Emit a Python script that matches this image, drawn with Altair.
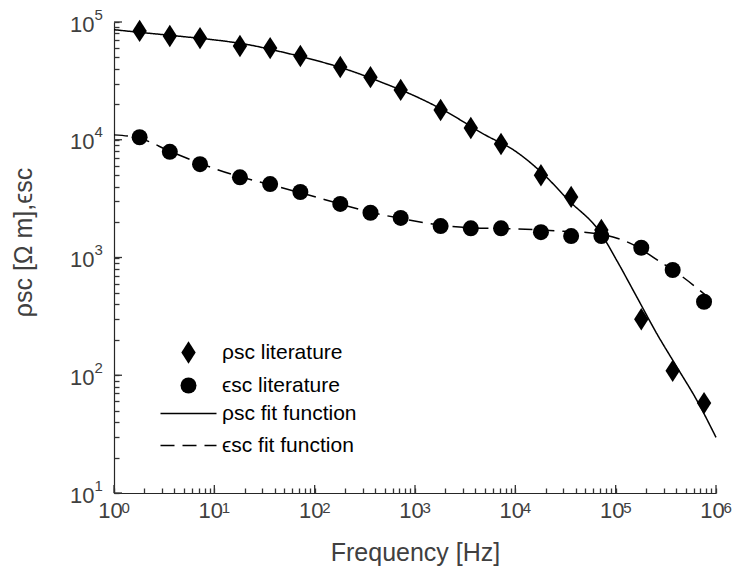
import altair as alt
import pandas as pd

# ---- data ----
freq_lit = [1.8, 3.6, 7.2, 18, 36, 72, 180, 360, 720, 1800, 3600, 7200,
            18000, 36000, 72000, 180000, 370000, 760000]
rho_lit = [84000, 76000, 73000, 62500, 60000, 51500, 41500, 34000, 26500,
           17900, 12600, 9200, 5000, 3270, 1710, 299, 109, 58]
eps_lit = [10500, 7900, 6200, 4800, 4200, 3600, 2850, 2400, 2170,
           1850, 1770, 1770, 1640, 1520, 1520, 1210, 783, 421]

freq_rho_fit = [1, 2, 5, 10, 20, 50, 100, 200, 500, 1000, 2000, 5000, 10000,
                20000, 33700, 71000, 102000, 162000, 256000, 406000, 642000, 1000000]
rho_fit = [86000, 81000, 75000, 70500, 65000, 55000, 47500, 40000, 30000, 23500,
           17500, 11000, 8000, 4900, 3080, 1610, 952, 464, 227, 118, 61.6, 29.7]

freq_eps_fit = [1, 1.8, 3.6, 7.2, 18, 36, 72, 180, 360, 720, 1800, 3600, 10300,
                30000, 60000, 162000, 250000, 438000, 1000000]
eps_fit = [11000, 10300, 8000, 6300, 4850, 4150, 3550, 2850, 2420, 2150, 1880,
           1790, 1750, 1670, 1610, 1240, 975, 710, 403]

RHO_LIT = "ρsc literature"
EPS_LIT = "ϵsc literature"
RHO_FIT = "ρsc fit function"
EPS_FIT = "ϵsc fit function"

x_major = [1, 10, 100, 1000, 10000, 100000, 1000000]
y_major = [10, 100, 1000, 10000, 100000]
x_all = [m * k for k in x_major[:-1] for m in range(1, 10)] + [x_major[-1]]
y_all = [m * k for k in y_major[:-1] for m in range(1, 10)] + [y_major[-1]]

# ---- tables ----
pts = pd.DataFrame({
    "f": freq_lit + freq_lit,
    "v": rho_lit + eps_lit,
    "series": [RHO_LIT] * len(freq_lit) + [EPS_LIT] * len(freq_lit),
})
lines = pd.DataFrame({
    "f": freq_rho_fit + freq_eps_fit,
    "v": rho_fit + eps_fit,
    "series": [RHO_FIT] * len(freq_rho_fit) + [EPS_FIT] * len(freq_eps_fit),
})
xmaj_df = pd.DataFrame({"t": x_major})
ymaj_df = pd.DataFrame({"t": y_major})

W, H = 602, 471
FONT = "Liberation Sans"
AX = "#262626"
TXT = "#404040"
LOG = "log(datum.value)/LN10"
EXPO = f"abs({LOG} - round({LOG})) < 0.000001 ? '' + round({LOG}) : ''"
DIAMOND = "M0,-1.4L0.9,0L0,1.4L-0.9,0Z"

xscale = alt.Scale(type="log", domain=[1, 1000000], nice=False)
yscale = alt.Scale(type="log", domain=[10, 100000], nice=False)

points = alt.Chart(pts).mark_point(filled=True, opacity=1, color="black", size=256).encode(
    x=alt.X("f:Q", scale=xscale, axis=alt.Axis(
        orient="bottom", title="Frequency [Hz]", values=x_major, labelExpr="'10'",
        ticks=False, grid=False, domainColor=AX, domainWidth=1.2,
        labelFont=FONT, labelFontSize=22, labelColor=TXT, labelPadding=7, labelOffset=-4,
        labelFlush=False, labelOverlap=False,
        titleFont=FONT, titleFontSize=25, titleFontWeight="normal", titleColor=TXT,
        titlePadding=19)),
    y=alt.Y("v:Q", scale=yscale, axis=alt.Axis(
        orient="left", title="ρsc [Ω m],ϵsc", values=y_major, labelExpr="'10'",
        ticks=False, grid=False, domainColor=AX, domainWidth=1.2,
        labelFont=FONT, labelFontSize=22, labelColor=TXT, labelPadding=20, labelOffset=2,
        labelFlush=False, labelOverlap=False,
        titleFont=FONT, titleFontSize=25, titleFontWeight="normal", titleColor=TXT,
        titlePadding=33, titleY=220)),
    shape=alt.Shape("series:N",
                    scale=alt.Scale(domain=[RHO_LIT, EPS_LIT], range=[DIAMOND, "circle"]),
                    legend=alt.Legend(title=None, orient="none", legendX=64, legendY=320,
                                      labelFont=FONT, labelFontSize=21, labelColor="#000",
                                      labelOffset=23, rowPadding=10, padding=0,
                                      symbolSize=256, symbolFillColor="black",
                                      symbolStrokeWidth=0)),
)

fits = alt.Chart(lines).mark_line(color="black", strokeWidth=1.5, interpolate="monotone").encode(
    x=alt.X("f:Q", scale=xscale, axis=alt.Axis(
        orient="top", offset=-H, domain=False, grid=False, title=None, ticks=True,
        values=x_all, tickColor="#333333", tickWidth=1.3, tickSize=5,
        labelExpr=EXPO, labelFont=FONT, labelFontSize=15, labelColor=TXT,
        labelBaseline="top", labelAlign="left", labelPadding=-12, labelOffset=7,
        labelFlush=False, labelOverlap=False, labelBound=False)),
    y=alt.Y("v:Q", scale=yscale, axis=alt.Axis(
        orient="right", offset=-W, domain=False, grid=False, title=None, ticks=True,
        values=y_all, tickColor="#333333", tickWidth=1.3, tickSize=5,
        labelExpr=EXPO, labelFont=FONT, labelFontSize=15, labelColor=TXT,
        labelBaseline="middle", labelAlign="left", labelPadding=-25, labelOffset=-8,
        labelFlush=False, labelOverlap=False, labelBound=False)),
    strokeDash=alt.StrokeDash("series:N",
                              scale=alt.Scale(domain=[RHO_FIT, EPS_FIT], range=[[1, 0], [14, 8]]),
                              legend=alt.Legend(title=None, orient="none", legendX=64, legendY=381,
                                                labelFont=FONT, labelFontSize=21, labelColor="#000",
                                                labelOffset=23, rowPadding=10, padding=0,
                                                symbolType="M-3.5,0H3.5", symbolSize=256,
                                                symbolStrokeWidth=1.5, symbolStrokeColor="black")),
    detail="series:N",
)

xmaj = alt.Chart(xmaj_df).mark_rule(color="#333333", strokeWidth=1.3).encode(
    x=alt.X("t:Q", scale=xscale, axis=None), y=alt.value(H), y2=alt.value(H - 8))
ymaj = alt.Chart(ymaj_df).mark_rule(color="#333333", strokeWidth=1.3).encode(
    y=alt.Y("t:Q", scale=yscale, axis=None), x=alt.value(0), x2=alt.value(8))

chart = alt.layer(points, fits, xmaj, ymaj).resolve_axis(x="independent", y="independent").properties(
    width=W, height=H,
    autosize=alt.AutoSizeParams(type="none"),
    padding={"left": 114, "top": 22, "right": 17, "bottom": 84},
).configure_view(stroke=None)

chart.save("out.html", embed_options={"renderer": "svg", "actions": False})
